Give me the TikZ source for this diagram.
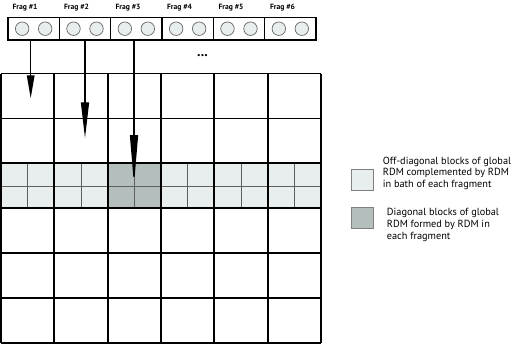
\documentclass[tikz,border=0pt]{standalone}
\usepackage{fontspec}
\setmainfont{PT Sans}
\usetikzlibrary{arrows.meta}
\definecolor{offdiag}{RGB}{232,238,238}
\definecolor{diagblk}{RGB}{180,191,189}
\definecolor{thinline}{RGB}{95,95,95}

\begin{document}
\begin{tikzpicture}[
    x=1pt, y=-1pt,
    fragbox/.style={
        draw,
        line width=1.6pt,
        minimum width=51.3pt,
        minimum height=22.7pt,
        inner sep=0pt
    },
    orbital/.style={circle, draw=gray!80!black, fill=offdiag, line width=0.7pt,
        minimum size=13.5pt, inner sep=0pt},
    fraglabel/.style={font=\fontsize{7.6}{8}\selectfont\bfseries, inner sep=0pt},
    legendbox/.style={draw=gray, line width=0.8pt, minimum width=22pt,
        minimum height=21pt, inner sep=0pt},
    legendtext/.style={align=left, anchor=west, inner sep=0pt,
        font=\fontsize{10.3}{11.8}\selectfont},
    cellline/.style={line width=1.7pt},
    subline/.style={thinline, line width=0.8pt}
]
\useasboundingbox (0,0) rectangle (514,343);

% Fragments
\foreach \i in {1,...,6} {
  \node[fragbox] (f\i) at ({8+51.33*(\i-0.5)},28.7) {};
  \node[orbital] (f\i a) at ([xshift=-11.5pt]f\i.center) {};
  \node[orbital] (f\i b) at ([xshift=11.5pt]f\i.center) {};
  \node[fraglabel] (l\i) at ({25+51.5*(\i-1)},7.5) {Frag \#\i};
}
\node[font=\fontsize{14}{14}\selectfont\bfseries, inner sep=0pt] (dots) at (202.5,56) {...};

% Shaded row of the global RDM
\fill[offdiag] (1,163.5) rectangle (321,208.4);
\fill[diagblk] (107.7,163.5) rectangle (161,208.4);
\foreach \c in {0,...,5}
  \draw[subline] ({1+53.33*(\c+0.5)},163.5) -- ++(0,44.9);
\draw[subline] (1,185.9) -- (321,185.9);

% Blocks of the global RDM
\foreach \c in {0,...,6}
  \draw[cellline] ({1+53.33*\c},73.5) -- ++(0,269.5);
\foreach \r in {0,...,6}
  \draw[cellline] (1,{73.5+44.9*\r}) -- ++(320,0);

% Fragment to block arrows
\coordinate (t1) at (30.7,98.3);
\coordinate (t2) at (85,138.3);
\coordinate (t3) at (134,185);
\draw[line width=1.3pt, -{Triangle[length=23pt, width=7.5pt]}] (f1.south -| t1) -- (t1);
\draw[line width=1.3pt, -{Triangle[length=36pt, width=8pt]}] (f2.south -| t2) -- (t2);
\draw[line width=1.3pt, -{Triangle[length=50pt, width=8pt]}] (f3.south -| t3) -- (t3);

% Legend
\node[legendbox, fill=offdiag] (key1) at (362.8,180) {};
\node[legendtext] (txt1) at (382.7,173.3)
  {Off-diagonal blocks of global\\RDM complemented by RDM\\in bath of each fragment};
\node[legendbox, fill=diagblk] (key2) at (362.8,217.8) {};
\node[legendtext] (txt2) at (386.7,224.7)
  {Diagonal blocks of global\\RDM formed by RDM in\\each fragment};

\end{tikzpicture}
\end{document}
